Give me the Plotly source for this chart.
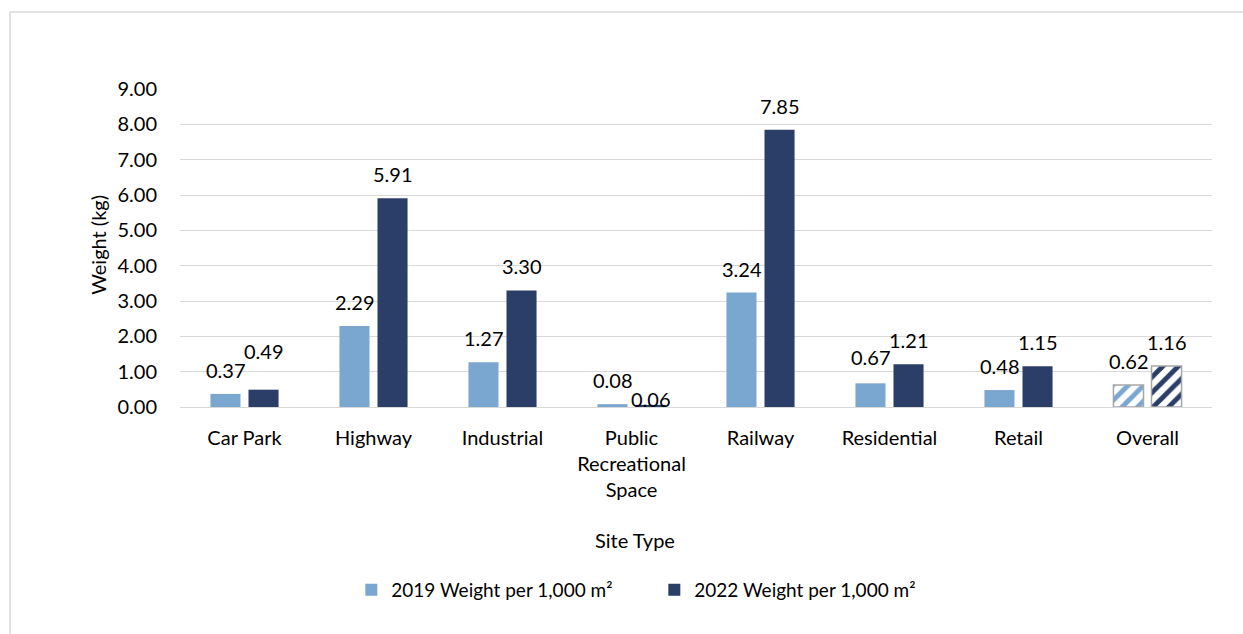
import plotly.graph_objects as go

# Site types and litter weight per 1,000 m² for the two survey years
categories = ["Car Park", "Highway", "Industrial", "Public\nRecreational\nSpace",
              "Railway", "Residential", "Retail", "Overall"]
weight_2019 = [0.37, 2.29, 1.27, 0.08, 3.24, 0.67, 0.48, 0.62]
weight_2022 = [0.49, 5.91, 3.30, 0.06, 7.85, 1.21, 1.15, 1.16]
series_names = ["2019 Weight per 1,000 m²", "2022 Weight per 1,000 m²"]
y_ticks = [0, 1, 2, 3, 4, 5, 6, 7, 8, 9]

FONT = "Lato, 'Liberation Sans', sans-serif"
TEXT = "#000000"
C2019 = "#7aa7d0"
C2022 = "#2b3e68"
GRID = "#d9d9d9"

tick_text = [c.replace("\n", "<br>") for c in categories]
n = len(categories)
site_idx = [i for i, c in enumerate(categories) if c != "Overall"]
total_idx = [i for i, c in enumerate(categories) if c == "Overall"]

fig = go.Figure()
for name, values, color, group in ((series_names[0], weight_2019, C2019, "y2019"),
                                   (series_names[1], weight_2022, C2022, "y2022")):
    # individual site types: solid fill
    fig.add_trace(go.Bar(
        name=name, legendgroup=group, offsetgroup=group,
        x=[tick_text[i] for i in site_idx], y=[values[i] for i in site_idx],
        marker=dict(color=color, line=dict(width=0)),
        hoverinfo="x+y",
    ))
    # overall figure: hatched fill with grey outline
    fig.add_trace(go.Bar(
        name=name, legendgroup=group, offsetgroup=group, showlegend=False,
        x=[tick_text[i] for i in total_idx], y=[values[i] for i in total_idx],
        marker=dict(
            color="white",
            line=dict(color="#a6a6a6", width=1.5),
            pattern=dict(shape="/", fgcolor=color, bgcolor="white",
                         size=11, solidity=0.45, fillmode="replace"),
        ),
        hoverinfo="x+y",
    ))

# value labels above each bar (a few nudged to avoid overlapping)
lift_2019 = [10, 10, 10, 10, 10, 12, 10, 10]
lift_2022 = [25, 10, 10, -8, 10, 10, 10, 10]
for i in range(n):
    for vals, shift, lift in ((weight_2019, -19, lift_2019), (weight_2022, 19, lift_2022)):
        fig.add_annotation(
            x=tick_text[i], y=vals[i], xref="x", yref="y",
            text=f"{vals[i]:.2f}", showarrow=False,
            xshift=shift, yshift=lift[i], yanchor="bottom",
            font=dict(family=FONT, size=20, color=TEXT),
        )

# axis titles
fig.add_annotation(
    text="Site Type", xref="paper", yref="paper", x=0.441, y=-0.418,
    xanchor="center", yanchor="middle",
    showarrow=False, font=dict(family=FONT, size=20, color=TEXT),
)
fig.add_annotation(
    text="Weight (kg)", xref="paper", yref="paper", x=-0.0795, y=0.51,
    xanchor="center", yanchor="middle",
    textangle=-90, showarrow=False, font=dict(family=FONT, size=20, color=TEXT),
)

# chart-area frame
fig.add_shape(type="line", xref="paper", yref="paper", x0=-0.1647, x1=1.1, y0=1.242, y1=1.242,
              line=dict(color=GRID, width=1.5))
fig.add_shape(type="line", xref="paper", yref="paper", x0=-0.1647, x1=-0.1647, y0=-0.8, y1=1.242,
              line=dict(color=GRID, width=1.5))

fig.update_layout(
    width=1243, height=634,
    margin=dict(l=180, r=31, t=89, b=227),
    paper_bgcolor="white", plot_bgcolor="white",
    barmode="group", bargap=0.41, bargroupgap=0.21,
    font=dict(family=FONT, size=20, color=TEXT),
    showlegend=True,
    legend=dict(
        orientation="h", x=0.166, y=-0.575, xanchor="left", yanchor="middle",
        font=dict(family=FONT, size=19, color=TEXT),
        entrywidth=258, entrywidthmode="pixels", itemwidth=30,
        traceorder="normal",
    ),
)
fig.update_xaxes(
    type="category", categoryorder="array", categoryarray=tick_text,
    showgrid=False, showline=False, ticks="",
    ticklabelstandoff=17,
    tickfont=dict(family=FONT, size=20, color=TEXT),
)
fig.update_yaxes(
    range=[0, 9], tickvals=y_ticks, tickformat=".2f",
    showgrid=True, gridcolor=GRID, gridwidth=1.3,
    zeroline=True, zerolinecolor=GRID, zerolinewidth=1.3,
    showline=False, ticks="", ticklabelstandoff=22,
    tickfont=dict(family=FONT, size=20, color=TEXT),
)

fig.write_html("out.html")
